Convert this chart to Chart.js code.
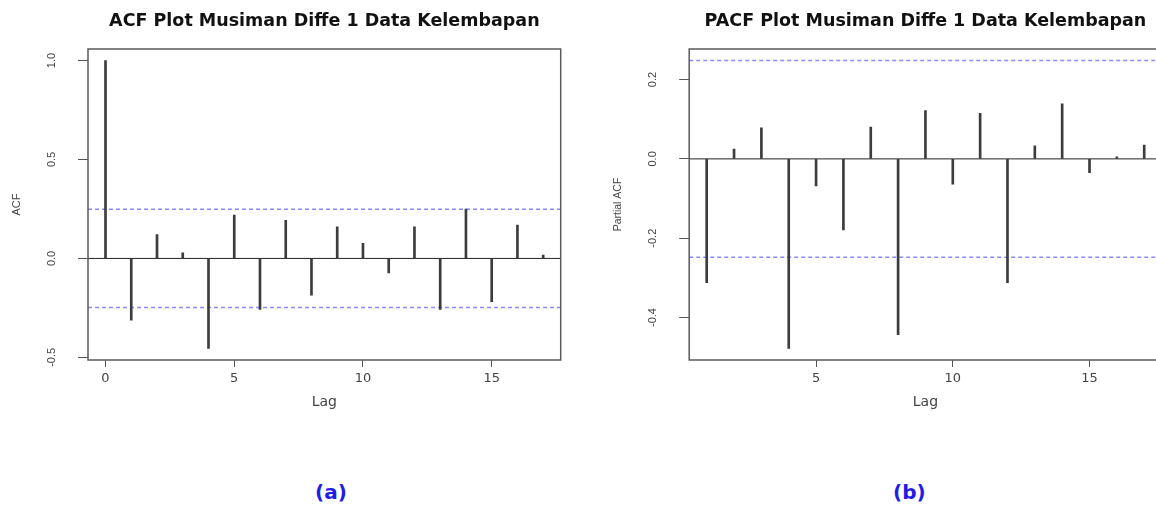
<!DOCTYPE html>
<html>
<head>
<meta charset="utf-8">
<script src="https://cdn.jsdelivr.net/npm/chart.js@4/dist/chart.umd.min.js"></script>
<style>
html, body { margin:0; padding:0; background:#fff; width:1156px; height:507px; overflow:hidden; }
#wrap { position:relative; width:1156px; height:507px; overflow:hidden; }
canvas { position:absolute; top:0; }
#cA { left:0; }
#cB { left:580px; }
.cap { position:absolute; top:480px; font:bold 20px "DejaVu Sans", sans-serif; color:#1e1ee6; }
</style>
</head>
<body>
<div id="wrap">
<canvas id="cA" width="580" height="430"></canvas>
<canvas id="cB" width="601" height="430"></canvas>
<div class="cap" id="capA" style="left:315px;">(a)</div>
<div class="cap" id="capB" style="left:893px;">(b)</div>
</div>
<script>
// ---------- data ----------
const acfTitle = "ACF Plot Musiman Diffe 1 Data Kelembapan";
const pacfTitle = "PACF Plot Musiman Diffe 1 Data Kelembapan";
const acfLags = [0,1,2,3,4,5,6,7,8,9,10,11,12,13,14,15,16,17];
const acfValues = [1.0,-0.312,0.121,0.028,-0.455,0.219,-0.258,0.193,-0.185,0.160,0.076,-0.073,0.160,-0.258,0.249,-0.219,0.168,0.017];
const pacfLags = [1,2,3,4,5,6,7,8,9,10,11,12,13,14,15,16,17];
const pacfValues = [-0.312,0.025,0.078,-0.478,-0.068,-0.179,0.080,-0.443,0.122,-0.064,0.115,-0.312,0.033,0.139,-0.035,0.005,0.035];
const confLimit = 0.248;
const acfXTicks = [0,5,10,15];
const acfYTicks = [-0.5,0.0,0.5,1.0];
const pacfXTicks = [5,10,15];
const pacfYTicks = [-0.4,-0.2,0.0,0.2];

// ---------- helpers ----------
function ext(lo, hi){ const d=(hi-lo)*0.04; return [lo-d, hi+d]; }

const boxPlugin = {
  id:'rbox',
  afterDraw(chart){
    const {ctx, chartArea:a} = chart;
    ctx.save();
    ctx.strokeStyle = '#5a5a5a';
    ctx.lineWidth = 1.5;
    ctx.strokeRect(a.left, a.top, a.right-a.left, a.bottom-a.top);
    // rotated y tick labels (R style)
    const ys = chart.scales.y;
    ctx.fillStyle = '#444';
    ctx.font = '11px "Liberation Sans", Arial, sans-serif';
    ctx.textAlign = 'center';
    ctx.textBaseline = 'middle';
    chart.options.plugins.rbox.yTicks.forEach(v => {
      const py = ys.getPixelForValue(v);
      ctx.save();
      ctx.translate(a.left - 36, py);
      ctx.rotate(-Math.PI/2);
      ctx.fillText(v.toFixed(1), 0, 0);
      ctx.restore();
    });
    ctx.restore();
  }
};

function makeChart(id, cfg){
  const [xmin, xmax] = ext(cfg.lags[0], cfg.lags[cfg.lags.length-1]);
  const [ymin, ymax] = ext(Math.min(...cfg.values, -confLimit), Math.max(...cfg.values, confLimit));
  const bars = cfg.lags.map((l,i)=>({x:l, y:cfg.values[i]}));
  return new Chart(document.getElementById(id), {
    type:'bar',
    data:{ datasets:[
      { type:'line', data:[{x:xmin,y:0},{x:xmax,y:0}], borderColor:'#222', borderWidth:1, pointRadius:0, order:3 },
      { type:'line', data:[{x:xmin,y:confLimit},{x:xmax,y:confLimit}], borderColor:'#8a8aff', borderWidth:1.5, borderDash:[4,3], pointRadius:0, order:2 },
      { type:'line', data:[{x:xmin,y:-confLimit},{x:xmax,y:-confLimit}], borderColor:'#8a8aff', borderWidth:1.5, borderDash:[4,3], pointRadius:0, order:2 },
      { type:'bar', data:bars, backgroundColor:'#3c3c3c', barThickness:2, order:1 }
    ]},
    options:{
      responsive:false, animation:false, devicePixelRatio:1,
      layout:{ padding:{ left:0, right:cfg.padRight, top:0, bottom:0 } },
      plugins:{
        legend:{display:false}, tooltip:{enabled:false},
        title:{ display:true, text:cfg.title, fullSize:false, color:'#111',
                font:{ family:'"DejaVu Sans", sans-serif', size:17.5, weight:'bold', lineHeight:1.2 },
                padding:{ top:10.5, bottom:17.5 } },
        rbox:{ yTicks:cfg.yTicks }
      },
      scales:{
        x:{ type:'linear', min:xmin, max:xmax, offset:false,
            afterBuildTicks: s => { s.ticks = cfg.xTicks.map(v=>({value:v})); },
            afterFit: s => { s.height = 70; },
            grid:{ display:true, offset:false, drawOnChartArea:false, drawTicks:true, tickLength:7, color:'#555', lineWidth:1 },
            border:{ display:false },
            ticks:{ color:'#444', padding:4, maxRotation:0, autoSkip:false,
                    font:{ family:'"DejaVu Sans", sans-serif', size:13 } },
            title:{ display:true, text:'Lag', color:'#444', padding:{ top:0, bottom:18.8 },
                    font:{ family:'"DejaVu Sans", sans-serif', size:14, lineHeight:1.2 } } },
        y:{ type:'linear', min:ymin, max:ymax,
            afterBuildTicks: s => { s.ticks = cfg.yTicks.map(v=>({value:v})); },
            afterFit: s => { s.width = cfg.yWidth; },
            grid:{ display:true, drawOnChartArea:false, drawTicks:true, tickLength:10, color:'#555', lineWidth:1 },
            border:{ display:false },
            ticks:{ display:false },
            title:{ display:true, text:cfg.yTitle, color:'#444', padding:{ top:cfg.yTitlePad, bottom:0 },
                    font:{ family:'"Liberation Sans", Arial, sans-serif', size:cfg.yTitleSize, lineHeight:1.2 } } }
      }
    },
    plugins:[boxPlugin]
  });
}

makeChart('cA', { title:acfTitle, lags:acfLags, values:acfValues, xTicks:acfXTicks, yTicks:acfYTicks,
  yTitle:'ACF', yWidth:88, padRight:19.3, yTitlePad:10.4, yTitleSize:11 });
makeChart('cB', { title:pacfTitle, lags:pacfLags, values:pacfValues, xTicks:pacfXTicks, yTicks:pacfYTicks,
  yTitle:'Partial ACF', yWidth:109.2, padRight:19.3, yTitlePad:31.7, yTitleSize:10.5 });
</script>
</body>
</html>
